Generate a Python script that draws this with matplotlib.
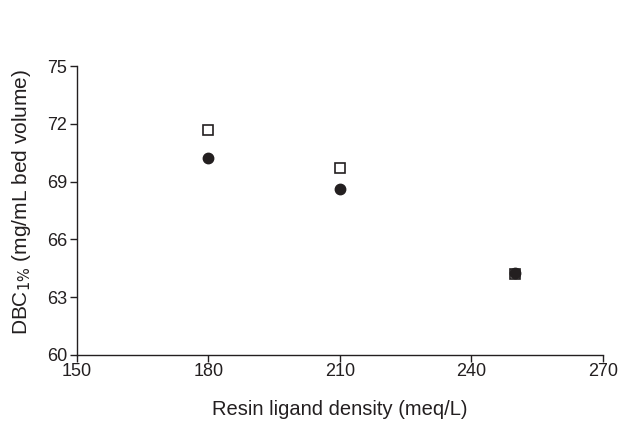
import matplotlib
matplotlib.use('Agg')
import matplotlib.pyplot as plt

# data
density = [180, 210, 250]
dbc_square = [71.7, 69.7, 64.2]
dbc_circle = [70.2, 68.6, 64.25]

plt.rcParams['font.family'] = ['Liberation Sans', 'DejaVu Sans']

fig = plt.figure(figsize=(6.19, 4.22), dpi=100)
ax = fig.add_axes([0.1244, 0.1588, 0.8496, 0.6848])

ax.plot(density, dbc_square, 's', ms=7, mfc='white', mec='#231f20', mew=1.2, ls='none')
ax.plot(density, dbc_circle, 'o', ms=7.5, color='#231f20', ls='none')

ax.set_xlim(150, 270)
ax.set_ylim(60, 75)
ax.set_xticks([150, 180, 210, 240, 270])
ax.set_yticks([60, 63, 66, 69, 72, 75])
ax.spines['top'].set_visible(False)
ax.spines['right'].set_visible(False)
for s in ('left', 'bottom'):
    ax.spines[s].set_color('#231f20')
    ax.spines[s].set_linewidth(1.0)
ax.tick_params(direction='out', length=5, width=1.0, colors='#231f20', labelsize=13)
ax.tick_params(axis='x', pad=1)
ax.tick_params(axis='y', pad=2)
ax.set_xlabel('Resin ligand density (meq/L)', fontsize=14.5, color='#231f20', labelpad=14)
ax.set_ylabel('DBC$_{1\\%}$ (mg/mL bed volume)', fontsize=15, color='#231f20', labelpad=10)
ax.yaxis.label.set_y(0.53)

fig.savefig('out.png', dpi=100)
